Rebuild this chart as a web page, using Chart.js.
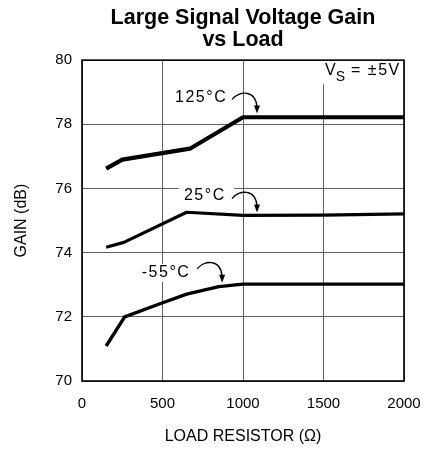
<!DOCTYPE html>
<html><head><meta charset="utf-8">
<script src="https://cdn.jsdelivr.net/npm/chart.js@4.4.1/dist/chart.umd.min.js"></script>
<style>html,body{margin:0;padding:0;background:#fff}#wrap{width:425px;height:450px}</style>
</head><body><div id="wrap"><canvas id="c" width="425" height="450"></canvas></div>
<script>
// ---- data ----
const titleLines = ['Large Signal Voltage Gain', 'vs Load'];
const xAxisLabel = 'LOAD RESISTOR (\u03A9)';
const yAxisLabel = 'GAIN (dB)';
const xTicks = [0, 500, 1000, 1500, 2000];
const yTicks = [70, 72, 74, 76, 78, 80];
const seriesNames = ['125°C', '25°C', '-55°C'];
const load125 = [150, 250, 670, 1000, 2000];
const gain125 = [76.62, 76.90, 77.24, 78.22, 78.22];
const load25 = [150, 260, 650, 1000, 1500, 2000];
const gain25 = [74.17, 74.32, 75.26, 75.16, 75.17, 75.21];
const loadM55 = [150, 265, 480, 650, 850, 1000, 2000];
const gainM55 = [71.09, 72.00, 72.40, 72.71, 72.94, 73.02, 73.02];
const supplyLabel = ['V', 'S', ' = \u00B15V'];

const FONT = "'Liberation Sans', Arial, sans-serif";
const pts = (xs, ys) => xs.map((x, i) => ({ x: x, y: ys[i] }));

// annotation anchors in data units: label centre and arrow tip
const notes = [
  { text: seriesNames[0], label: [740, 78.84], tip: [1087, 78.34] },
  { text: seriesNames[1], label: [763, 75.78], tip: [1087, 75.25] },
  { text: seriesNames[2], label: [522, 73.37], tip: [870, 73.06] }
];

const annot = {
  id: 'annot',
  beforeDatasetsDraw(chart) {
    const ctx = chart.ctx, xs = chart.scales.x, ys = chart.scales.y, a = chart.chartArea;
    ctx.save();
    ctx.font = '16px ' + FONT;
    ctx.letterSpacing = '1.5px';
    ctx.textBaseline = 'middle';
    ctx.textAlign = 'center';
    notes.forEach(n => {
      const lx = xs.getPixelForValue(n.label[0]), ly = ys.getPixelForValue(n.label[1]);
      const tx = xs.getPixelForValue(n.tip[0]), ty = ys.getPixelForValue(n.tip[1]);
      const w = ctx.measureText(n.text).width;
      const sx = tx - 25, sy = ty - 14;
      ctx.fillStyle = '#fff';
      ctx.fillRect(lx - w / 2 - 5, ly - 9, (sx + 2) - (lx - w / 2 - 5), 18);
      ctx.fillStyle = '#000';
      ctx.fillText(n.text, lx, ly);
      // curved arrow
      ctx.strokeStyle = '#000';
      ctx.lineWidth = 1.3;
      ctx.beginPath();
      ctx.moveTo(sx, sy);
      ctx.bezierCurveTo(sx + 7, sy - 9, tx - 1, sy - 10, tx, ty - 6);
      ctx.stroke();
      ctx.beginPath();
      ctx.moveTo(tx, ty);
      ctx.lineTo(tx - 3, ty - 8);
      ctx.lineTo(tx + 3, ty - 8);
      ctx.closePath();
      ctx.fill();
    });
    // supply voltage label (top right)
    const bx = xs.getPixelForValue(1470), by = ys.getPixelForValue(79.25);
    ctx.fillStyle = '#fff';
    ctx.fillRect(bx, a.top, a.right - bx, by - a.top);
    ctx.fillStyle = '#000';
    ctx.textAlign = 'left';
    ctx.textBaseline = 'alphabetic';
    ctx.letterSpacing = '0px';
    ctx.font = '16px ' + FONT;
    let px = xs.getPixelForValue(1510);
    ctx.fillText(supplyLabel[0], px, a.top + 15);
    px += ctx.measureText(supplyLabel[0]).width;
    ctx.font = '14px ' + FONT;
    ctx.fillText(supplyLabel[1], px, a.top + 21);
    px += ctx.measureText(supplyLabel[1]).width;
    ctx.font = '16px ' + FONT;
    ctx.letterSpacing = '1.5px';
    ctx.fillText(supplyLabel[2], px, a.top + 15);
    ctx.restore();
  },
  afterDraw(chart) {
    const ctx = chart.ctx, a = chart.chartArea;
    ctx.save();
    ctx.strokeStyle = '#000';
    ctx.lineWidth = 1.6;
    ctx.strokeRect(a.left, a.top, a.right - a.left, a.bottom - a.top);
    ctx.restore();
  }
};

new Chart(document.getElementById('c'), {
  type: 'line',
  data: {
    datasets: [
      { label: seriesNames[0], data: pts(load125, gain125), borderWidth: 4.2 },
      { label: seriesNames[1], data: pts(load25, gain25), borderWidth: 3.2 },
      { label: seriesNames[2], data: pts(loadM55, gainM55), borderWidth: 3.4 }
    ].map(d => Object.assign(d, { borderColor: '#000', pointRadius: 0, tension: 0, fill: false, borderJoinStyle: 'round' }))
  },
  options: {
    responsive: false,
    animation: false,
    devicePixelRatio: 1,
    layout: { padding: { left: 0, right: 21, top: 0, bottom: 0 } },
    plugins: {
      legend: { display: false },
      tooltip: { enabled: false },
      title: {
        display: true, text: titleLines, fullSize: false, color: '#000',
        font: { family: FONT, size: 21.5, weight: 'bold', lineHeight: 0.98 },
        padding: { top: 8, bottom: 10 }
      }
    },
    scales: {
      x: {
        type: 'linear', min: 0, max: 2000,
        afterBuildTicks: s => { s.ticks = xTicks.map(v => ({ value: v })); },
        afterFit: s => { s.height = 69; s.paddingRight = 0; s.paddingLeft = 0; },
        grid: { color: '#606060', lineWidth: 1, drawTicks: false },
        border: { display: false },
        ticks: { color: '#000', padding: 14, font: { family: FONT, size: 15 }, callback: v => String(v) },
        title: { display: true, text: xAxisLabel, color: '#000', font: { family: FONT, size: 16 }, padding: { top: 4, bottom: 4 } }
      },
      y: {
        type: 'linear', min: 70, max: 80,
        afterBuildTicks: s => { s.ticks = yTicks.map(v => ({ value: v })); },
        afterFit: s => { s.width = 82; },
        grid: { color: '#606060', lineWidth: 1, drawTicks: false },
        border: { display: false },
        ticks: { color: '#000', padding: 10, font: { family: FONT, size: 15 }, callback: v => String(v) },
        title: { display: true, text: yAxisLabel, color: '#000', font: { family: FONT, size: 16 }, padding: { top: 12, bottom: 0 } }
      }
    }
  },
  plugins: [annot]
});
</script>
</body></html>
